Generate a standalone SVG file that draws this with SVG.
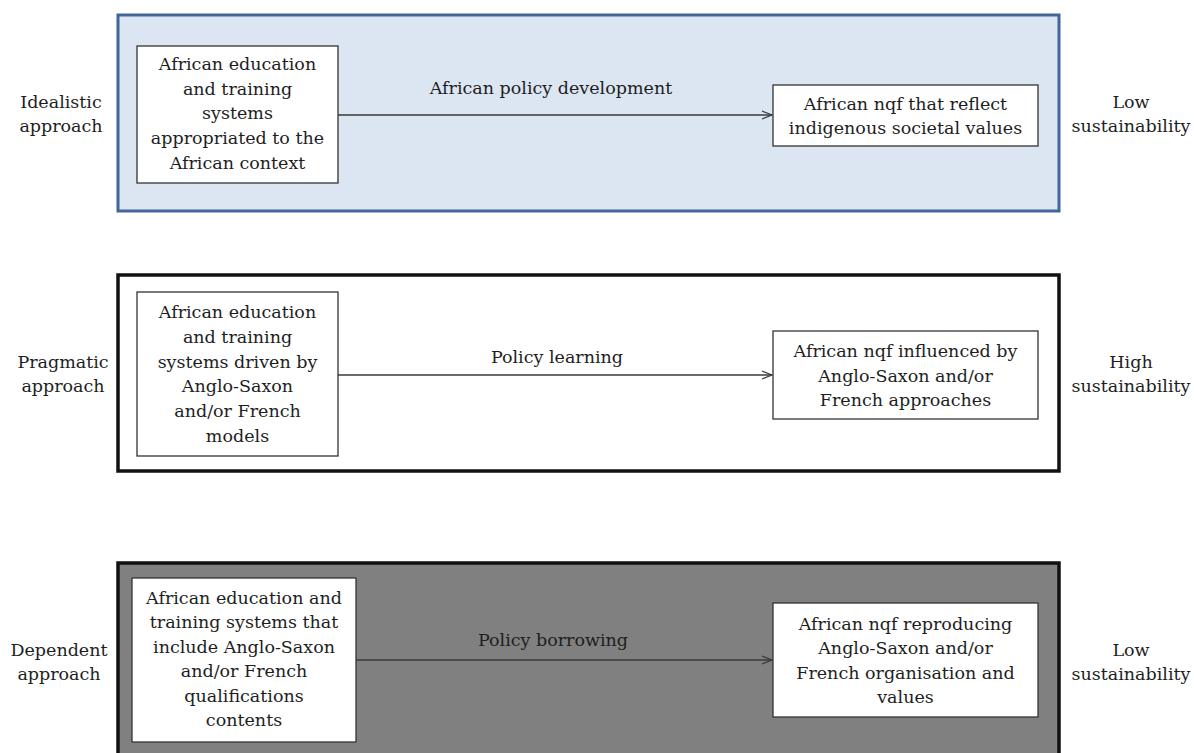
<svg xmlns="http://www.w3.org/2000/svg" width="1194" height="753" viewBox="0 0 1194 753">
  <style>
    text { font-family: "DejaVu Serif", "Liberation Serif", serif; font-size: 17.5px; fill: #1e1e1e; text-anchor: middle; }
    .band-idealistic { fill: #dce6f2; stroke: #41679a; stroke-width: 3; }
    .band-pragmatic { fill: #ffffff; stroke: #111111; stroke-width: 3.5; }
    .band-dependent { fill: #808080; stroke: #111111; stroke-width: 3.5; }
    .box { fill: #ffffff; stroke: #333333; stroke-width: 1.3; }
    .link { fill: none; stroke: #3a3a3a; stroke-width: 1.4; }
  </style>
  <defs>
    <marker id="open-arrow" markerWidth="12" markerHeight="10" refX="11" refY="5" orient="auto" markerUnits="userSpaceOnUse">
      <path d="M1,1 L11,5 L1,9" fill="none" stroke="#3a3a3a" stroke-width="1.3"/>
    </marker>
  </defs>

  <rect width="1194" height="753" fill="#ffffff"/>

  <!-- approach bands -->
  <g id="band-idealistic"><rect class="band-idealistic" x="118" y="15" width="941" height="196"/></g>
  <g id="band-pragmatic"><rect class="band-pragmatic" x="118" y="275" width="941" height="196"/></g>
  <g id="band-dependent"><rect class="band-dependent" x="118" y="563" width="941" height="200"/></g>

  <!-- side labels -->
  <g id="label-idealistic"><text x="61" y="108">Idealistic</text><text x="61" y="132">approach</text></g>
  <g id="label-pragmatic"><text x="63" y="368">Pragmatic</text><text x="63" y="392">approach</text></g>
  <g id="label-dependent"><text x="59" y="656">Dependent</text><text x="59" y="680">approach</text></g>
  <g id="label-low-1"><text x="1131" y="108">Low</text><text x="1131" y="132">sustainability</text></g>
  <g id="label-high"><text x="1131" y="368">High</text><text x="1131" y="392">sustainability</text></g>
  <g id="label-low-2"><text x="1131" y="656">Low</text><text x="1131" y="680">sustainability</text></g>

  <!-- connectors -->
  <g id="connectors">
    <line class="link" x1="338" y1="115" x2="772" y2="115" marker-end="url(#open-arrow)"/>
    <text x="551" y="94">African policy development</text>
    <line class="link" x1="338" y1="375" x2="772" y2="375" marker-end="url(#open-arrow)"/>
    <text x="557" y="363">Policy learning</text>
    <line class="link" x1="356" y1="660" x2="772" y2="660" marker-end="url(#open-arrow)"/>
    <text x="553" y="646">Policy borrowing</text>
  </g>

  <!-- idealistic approach nodes -->
  <g id="node-idealistic-source">
    <rect class="box" x="137" y="46" width="201" height="137"/>
    <text x="237.5" y="70">African education</text>
    <text x="237.5" y="94.7">and training</text>
    <text x="237.5" y="119.4">systems</text>
    <text x="237.5" y="144">appropriated to the</text>
    <text x="237.5" y="168.8">African context</text>
  </g>
  <g id="node-idealistic-nqf">
    <rect class="box" x="773" y="85" width="265" height="61"/>
    <text x="905.5" y="110">African nqf that reflect</text>
    <text x="905.5" y="134">indigenous societal values</text>
  </g>

  <!-- pragmatic approach nodes -->
  <g id="node-pragmatic-source">
    <rect class="box" x="137" y="292" width="201" height="164"/>
    <text x="237.5" y="318">African education</text>
    <text x="237.5" y="343">and training</text>
    <text x="237.5" y="367.5">systems driven by</text>
    <text x="237.5" y="392">Anglo-Saxon</text>
    <text x="237.5" y="417">and/or French</text>
    <text x="237.5" y="441.5">models</text>
  </g>
  <g id="node-pragmatic-nqf">
    <rect class="box" x="773" y="331" width="265" height="88"/>
    <text x="905.5" y="357">African nqf influenced by</text>
    <text x="905.5" y="381.5">Anglo-Saxon and/or</text>
    <text x="905.5" y="406">French approaches</text>
  </g>

  <!-- dependent approach nodes -->
  <g id="node-dependent-source">
    <rect class="box" x="132" y="578" width="224" height="164"/>
    <text x="244" y="603.5">African education and</text>
    <text x="244" y="628">training systems that</text>
    <text x="244" y="652.5">include Anglo-Saxon</text>
    <text x="244" y="677">and/or French</text>
    <text x="244" y="701.5">qualifications</text>
    <text x="244" y="726">contents</text>
  </g>
  <g id="node-dependent-nqf">
    <rect class="box" x="773" y="603" width="265" height="114"/>
    <text x="905.5" y="629.5">African nqf reproducing</text>
    <text x="905.5" y="654">Anglo-Saxon and/or</text>
    <text x="905.5" y="678.5">French organisation and</text>
    <text x="905.5" y="703">values</text>
  </g>
</svg>
